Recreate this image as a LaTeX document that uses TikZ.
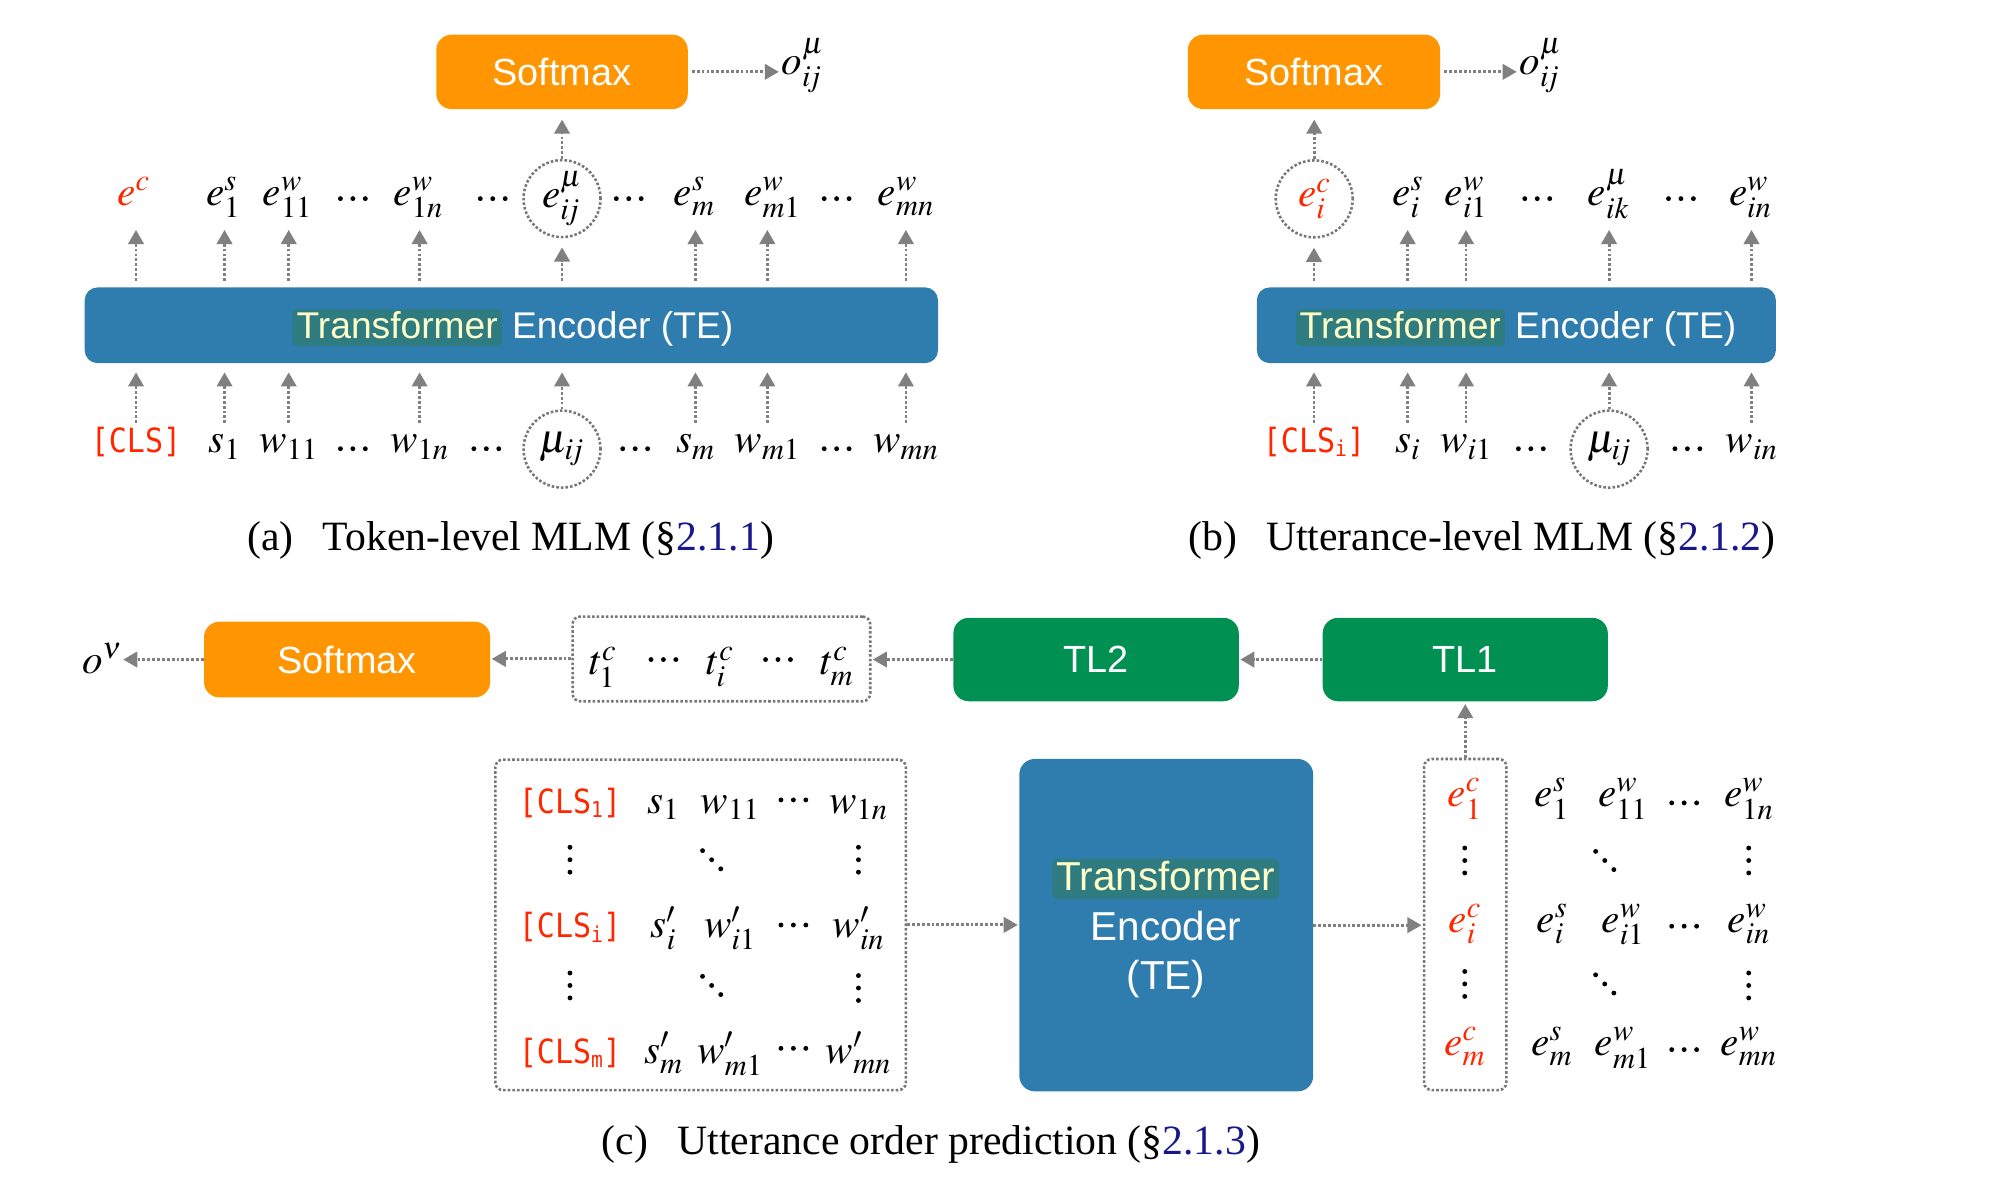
\documentclass[tikz,border=0pt]{standalone}
\usepackage{mathptmx}
\usepackage[no-math]{fontspec}
\setmainfont{Liberation Serif}
\setsansfont{Liberation Sans}
\newfontfamily\clsfont{DejaVu Sans Mono}
\usetikzlibrary{arrows.meta}
\definecolor{smorange}{RGB}{255,149,0}
\definecolor{teblue}{RGB}{47,125,174}
\definecolor{tlgreen}{RGB}{0,144,81}
\definecolor{hlteal}{RGB}{46,123,128}
\definecolor{hltext}{RGB}{255,255,200}
\definecolor{agray}{RGB}{128,128,128}
\definecolor{dgray}{RGB}{118,118,118}
\definecolor{clsred}{RGB}{255,38,0}
\definecolor{refblue}{RGB}{24,24,140}
\tikzset{
  sbox/.style={rounded corners=12pt, inner sep=0pt, text=white, font=\sffamily\fontsize{29.5}{34}\selectfont},
  orangebox/.style={sbox, fill=smorange},
  greenbox/.style={sbox, fill=tlgreen},
  bluebox/.style={sbox, fill=teblue, rounded corners=10pt},
  tetext/.style={inner sep=0pt, anchor=base, text=white, font=\sffamily\fontsize{29}{34}\selectfont},
  hlsty/.style={fill=hlteal, text=hltext, rounded corners=3pt, inner xsep=3pt, inner ysep=0pt, text height=0.78em, text depth=0.2em},
  mth/.style={inner sep=0pt, font=\fontsize{32}{38}\selectfont},
  rowE/.style={mth, anchor=base, text depth=12pt},
  rowI/.style={mth, anchor=base, text height=23pt},
  dotsn/.style={inner sep=0pt, anchor=center},
  clsn/.style={inner sep=0pt, anchor=base, text=clsred, font=\clsfont\fontsize{26}{30}\selectfont},
  arr/.style={draw=agray, line width=2.2pt, dash pattern=on 2.2pt off 1.6pt, -{Triangle[length=11pt,width=12pt]}},
  dline/.style={draw=dgray, line width=2pt, dash pattern=on 2pt off 1.6pt},
  dbox/.style={dline, rounded corners=6pt, inner sep=0pt},
  dcirc/.style={dline, circle, inner sep=0pt, minimum size=60pt},
  capt/.style={inner sep=0pt, anchor=base, font=\fontsize{32.5}{38}\selectfont},
}
\newcommand\hlbox[1]{\tikz[baseline=(hlX.base)]\node[hlsty](hlX){#1};}
\newcommand\cls[1]{\scalebox{0.9}[1]{[CLS\raisebox{-0.12em}{\fontsize{17}{17}\selectfont #1}]}}
\newcommand\hd{\tikz\foreach \q in {0,1,2}\fill (\q*9.7pt,0pt) circle (1.9pt);}
\newcommand\vd{\tikz\foreach \q in {0,1,2}\fill (0pt,\q*9.7pt) circle (1.9pt);}
\newcommand\dd{\tikz\foreach \q in {0,1,2}\fill (\q*7.1pt,-\q*7.1pt) circle (1.9pt);}
\newcommand\ijsub{i\mkern-2mu j}
\begin{document}
\begin{tikzpicture}[x=1pt,y=-1pt]
\useasboundingbox (0,0) rectangle (1568,938.3);

% ================= (a) =================
\node[orangebox, minimum width=196pt, minimum height=58pt] (SMa) at (438,56) {Softmax};
\node[mth, anchor=base west] (oa) at (609,58) {$o^{\mu}_{\ijsub}$};
\draw[arr, shorten <=3pt, shorten >=2pt] (SMa.east) -- (SMa.east -| oa.west);

\node[bluebox, minimum width=665pt, minimum height=59pt] (TEa) at (398.5,253.5) {};
\node[tetext] (TEaT) at (399.8,263.7) {\hlbox{Transformer} Encoder (TE)};

% e row
\node[rowE, text=clsred] (ea1) at (104,160) {$e^{c}$};
\node[rowE] (ea2) at (174,160) {$e^{s}_{1}$};
\node[rowE] (ea3) at (224,160) {$e^{w}_{11}$};
\node[dotsn] (eda1) at (275,154.8) {\hd};
\node[rowE] (ea4) at (326,160) {$e^{w}_{1n}$};
\node[dotsn] (eda2) at (384,154.8) {\hd};
\node[dcirc, mth] (ea5) at (438,154.8) {$e^{\mu}_{\ijsub}$};
\node[dotsn] (eda3) at (490,154.8) {\hd};
\node[rowE] (ea6) at (541,160) {$e^{s}_{m}$};
\node[rowE] (ea7) at (602,160) {$e^{w}_{m1}$};
\node[dotsn] (eda4) at (652,154.8) {\hd};
\node[rowE] (ea8) at (706,160) {$e^{w}_{mn}$};

% input row
\node[clsn, text height=23pt] (ia1) at (106,353) {\cls{}};
\node[rowI] (ia2) at (175,353) {$s_{1}$};
\node[rowI] (ia3) at (225,353) {$w_{11}$};
\node[dotsn] (ida1) at (275,349.7) {\hd};
\node[rowI] (ia4) at (327,353) {$w_{1n}$};
\node[dotsn] (ida2) at (379,349.7) {\hd};
\node[dcirc, mth] (ia5) at (438,350) {$\mu_{\ijsub}$};
\node[dotsn] (ida3) at (495,349.7) {\hd};
\node[rowI] (ia6) at (542,353) {$s_{m}$};
\node[rowI] (ia7) at (598,353) {$w_{m1}$};
\node[dotsn] (ida4) at (652,349.7) {\hd};
\node[rowI] (ia8) at (706,353) {$w_{mn}$};

\foreach \k in {1,...,8}{
  \draw[arr, shorten >=7pt] (ia\k.north) -- (ia\k |- TEa.south);
  \draw[arr, shorten <=5pt, shorten >=7pt] (ia\k |- TEa.north) -- (ia\k |- ea\k.south);
}
\draw[arr, shorten >=8pt] (ea5.north) -- (ea5.north |- SMa.south);

\node[capt] (capA) at (398,429) {(a)\hspace{0.7em}Token-level MLM (\S\textcolor{refblue}{2.1.1})};

% ================= (b) =================
\node[orangebox, minimum width=196.6pt, minimum height=58pt] (SMb) at (1024,56) {Softmax};
\node[mth, anchor=base west] (ob) at (1184,58) {$o^{\mu}_{\ijsub}$};
\draw[arr, shorten <=3pt, shorten >=2pt] (SMb.east) -- (SMb.east -| ob.west);

\node[bluebox, minimum width=404.5pt, minimum height=59pt] (TEb) at (1181.7,253.5) {};
\node[tetext] (TEbT) at (1181.5,263.7) {\hlbox{Transformer} Encoder (TE)};

\node[dcirc, mth, text=clsred] (eb1) at (1024.2,155) {$e^{c}_{i}$};
\node[rowE] (eb2) at (1097,160) {$e^{s}_{i}$};
\node[rowE] (eb3) at (1142.5,160) {$e^{w}_{i1}$};
\node[dotsn] (edb1) at (1198,154.8) {\hd};
\node[rowE] (eb4) at (1253.6,160) {$e^{\mu}_{ik}$};
\node[dotsn] (edb2) at (1310,154.8) {\hd};
\node[rowE] (eb5) at (1364,160) {$e^{w}_{in}$};

\node[clsn, text height=23pt] (ib1) at (1024,353) {\cls{i}};
\node[rowI] (ib2) at (1097,353) {$s_{i}$};
\node[rowI] (ib3) at (1142.5,353) {$w_{i1}$};
\node[dotsn] (idb1) at (1193,349.7) {\hd};
\node[dcirc, mth] (ib4) at (1254,350) {$\mu_{\ijsub}$};
\node[dotsn] (idb2) at (1315,349.7) {\hd};
\node[rowI] (ib5) at (1365,353) {$w_{in}$};

\foreach \k in {1,...,5}{
  \draw[arr, shorten >=7pt] (ib\k.north) -- (ib\k |- TEb.south);
  \draw[arr, shorten <=5pt, shorten >=7pt] (ib\k |- TEb.north) -- (ib\k |- eb\k.south);
}
\draw[arr, shorten >=8pt] (eb1.north) -- (eb1.north |- SMb.south);

\node[capt] (capB) at (1155,429) {(b)\hspace{0.7em}Utterance-level MLM (\S\textcolor{refblue}{2.1.2})};

% ================= (c) =================
\node[mth, anchor=base east] (onu) at (95,525) {$o^{\nu}$};
\node[orangebox, minimum width=223pt, minimum height=59pt] (SMc) at (270.5,514) {Softmax};
\node[dbox, minimum width=232pt, minimum height=66pt] (tbox) at (562.2,513.5) {};
\node[mth, anchor=base] (t1) at (469.7,526) {$t^{c}_{1}$};
\node[dotsn] (td1) at (517,514) {\hd};
\node[mth, anchor=base] (t2) at (561,526) {$t^{c}_{i}$};
\node[dotsn] (td2) at (606.3,514) {\hd};
\node[mth, anchor=base] (t3) at (652,526) {$t^{c}_{m}$};
\node[greenbox, minimum width=222.4pt, minimum height=65pt] (TL2) at (854.2,514) {TL2};
\node[greenbox, minimum width=222.2pt, minimum height=65pt] (TL1) at (1141.9,514) {TL1};

\draw[arr, shorten >=1pt] (TL1.west) -- (TL1.west -| TL2.east);
\draw[arr, shorten >=1pt] (TL2.west) -- (TL2.west -| tbox.east);
\draw[arr, shorten >=1pt] (tbox.west) -- (tbox.west -| SMc.east);
\draw[arr, shorten >=1pt] (SMc.west) -- (SMc.west -| onu.east);

% input matrix
\node[dbox, minimum width=320pt, minimum height=257.6pt] (inbox) at (546,720.8) {};
\node[clsn] (m11) at (444.2,634) {\cls{1}};
\node[mth, anchor=base] (m12) at (517,634) {$s_{1}$};
\node[mth, anchor=base] (m13) at (569,634) {$w_{11}$};
\node[dotsn] (m14) at (618.3,623.4) {\hd};
\node[mth, anchor=base] (m15) at (669,634) {$w_{1n}$};
\node[dotsn] (m21) at (444.2,670) {\vd};
\node[dotsn] (m22) at (554.6,670) {\dd};
\node[dotsn] (m23) at (669,670) {\vd};
\node[clsn] (m31) at (444.2,731) {\cls{i}};
\node[mth, anchor=base] (m32) at (517,731) {$s'_{i}$};
\node[mth, anchor=base] (m33) at (569,731) {$w'_{i1}$};
\node[dotsn] (m34) at (618.3,720.9) {\hd};
\node[mth, anchor=base] (m35) at (669,731) {$w'_{in}$};
\node[dotsn] (m41) at (444.2,768) {\vd};
\node[dotsn] (m42) at (554.6,768) {\dd};
\node[dotsn] (m43) at (669,770) {\vd};
\node[clsn] (m51) at (444.2,828.8) {\cls{m}};
\node[mth, anchor=base] (m52) at (517,828.8) {$s'_{m}$};
\node[mth, anchor=base] (m53) at (569,828.8) {$w'_{m1}$};
\node[dotsn] (m54) at (618.3,817) {\hd};
\node[mth, anchor=base] (m55) at (669,828.8) {$w'_{mn}$};

% transformer encoder (c)
\node[bluebox, rounded corners=12pt, minimum width=229pt, minimum height=259pt] (TEc) at (908.9,721) {};
\node[tetext, font=\sffamily\fontsize{31.5}{36}\selectfont] (TEc1) at (908.6,694) {\hlbox{Transformer}};
\node[tetext, font=\sffamily\fontsize{31.5}{36}\selectfont] (TEc2) at (908.6,732.6) {Encoder};
\node[tetext, font=\sffamily\fontsize{31.5}{36}\selectfont] (TEc3) at (908.6,771.4) {(TE)};

% output embeddings
\node[dbox, minimum width=64.2pt, minimum height=258pt] (ebox) at (1141.9,720.5) {};
\node[mth, anchor=base, text=clsred] (n11) at (1141.5,628.8) {$e^{c}_{1}$};
\node[mth, anchor=base] (n12) at (1209.4,628.8) {$e^{s}_{1}$};
\node[mth, anchor=base] (n13) at (1264.7,628.8) {$e^{w}_{11}$};
\node[dotsn] (n14) at (1312.5,625.7) {\hd};
\node[mth, anchor=base] (n15) at (1362.8,628.8) {$e^{w}_{1n}$};
\node[dotsn] (n21) at (1141.5,670.6) {\vd};
\node[dotsn] (n22) at (1250.6,670.6) {\dd};
\node[dotsn] (n23) at (1362.8,670.6) {\vd};
\node[mth, anchor=base, text=clsred] (n31) at (1141.5,726.4) {$e^{c}_{i}$};
\node[mth, anchor=base] (n32) at (1209.4,726.4) {$e^{s}_{i}$};
\node[mth, anchor=base] (n33) at (1264.7,726.4) {$e^{w}_{i1}$};
\node[dotsn] (n34) at (1312.5,721.8) {\hd};
\node[mth, anchor=base] (n35) at (1362.8,726.4) {$e^{w}_{in}$};
\node[dotsn] (n41) at (1141.5,766.8) {\vd};
\node[dotsn] (n42) at (1250.6,766.8) {\dd};
\node[dotsn] (n43) at (1362.8,768) {\vd};
\node[mth, anchor=base, text=clsred] (n51) at (1141.5,822.6) {$e^{c}_{m}$};
\node[mth, anchor=base] (n52) at (1209.4,822.6) {$e^{s}_{m}$};
\node[mth, anchor=base] (n53) at (1264.7,822.6) {$e^{w}_{m1}$};
\node[dotsn] (n54) at (1312.5,818) {\hd};
\node[mth, anchor=base] (n55) at (1362.8,822.6) {$e^{w}_{mn}$};

\draw[arr, shorten >=1pt] (inbox.east) -- (inbox.east -| TEc.west);
\draw[arr, shorten >=1pt] (TEc.east) -- (TEc.east -| ebox.west);
\draw[arr, shorten >=2pt] (ebox.north) -- (ebox.north |- TL1.south);

\node[capt] (capC) at (725.5,900) {(c)\hspace{0.7em}Utterance order prediction (\S\textcolor{refblue}{2.1.3})};
\end{tikzpicture}
\end{document}
